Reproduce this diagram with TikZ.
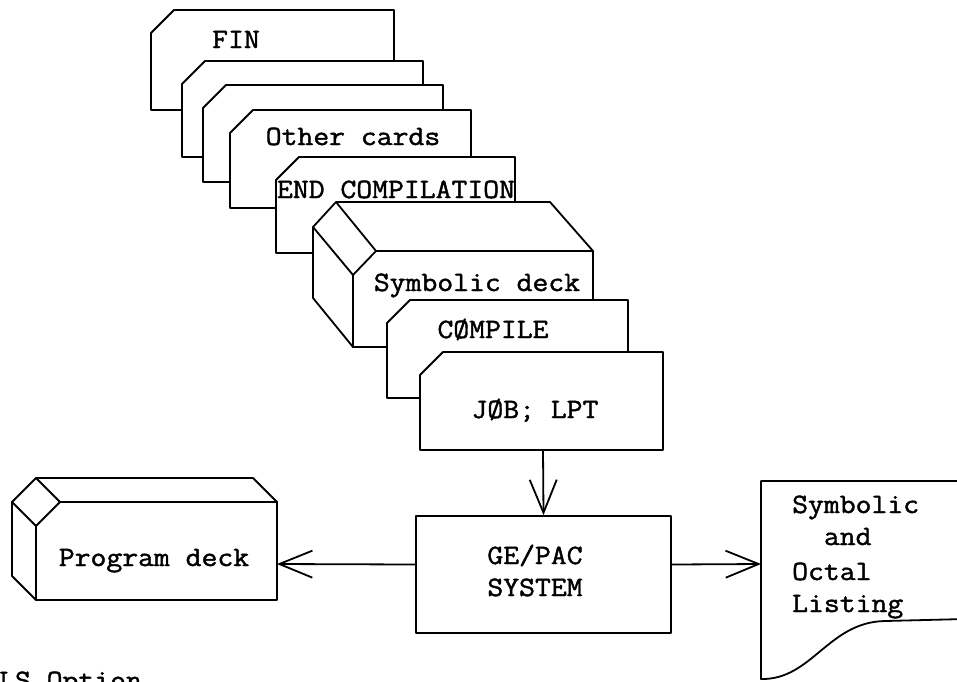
\documentclass[tikz,border=0pt]{standalone}
\usepackage{fontspec}
\newfontfamily\tw[FakeStretch=1.1,FakeBold=1.5]{Latin Modern Mono}
\usetikzlibrary{arrows.meta}

% a punched card with its top left corner cut off: left, top, right, bottom
\newcommand\punchcard[4]{%
  \draw[card] (#1+23,#2) -- (#3,#2) -- (#3,#4) -- (#1,#4) -- (#1,#2+23) -- cycle;}

\begin{document}
\begin{tikzpicture}[x=1pt,y=-1pt,
  ink/.style={line width=1.8pt,line join=round,line cap=round},
  card/.style={ink,fill=white},
  lbl/.style={font=\tw\fontsize{28}{33}\selectfont,inner sep=0pt,anchor=base},
  flow/.style={ink,-{Straight Barb[length=33pt,width=27pt,line width=1.8pt]}},
  sysbox/.style={ink,draw,fill=white,minimum width=255pt,minimum height=117pt,inner sep=0pt}]
\useasboundingbox (0,0) rectangle (957,681);
\clip (0,0) rectangle (957,681);

% ---- card stack, from the back to the front ----
\punchcard{151}{10}{394}{110}
\punchcard{182}{61}{423}{157}
\punchcard{203}{85}{443}{182}
\punchcard{230}{110}{471}{208}
\punchcard{276}{157}{515}{253}

% symbolic deck drawn as a box
\draw[card] (336,202) -- (550,202) -- (593,251) -- (593,347) -- (353,347)
  -- (313,298) -- (313,227) -- cycle;
\draw[ink] (313,227) -- (353,275) -- (376,251) -- (336,202);
\draw[ink] (376,251) -- (593,251);
\draw[ink] (353,275) -- (353,347);

\punchcard{387}{300}{628}{398}
\punchcard{420}{352}{663}{450}

\node[lbl] (fin) at (236,48) {FIN};
\node[lbl] (other) at (353,145) {Other cards};
\node[lbl] (endc) at (396,198) {END COMPILATION};
\node[lbl] (symdeck) at (477,291) {Symbolic deck};
\node[lbl] (compile) at (493,338) {CØMPILE};
\node[lbl] (job) at (535,418) {JØB; LPT};
\coordinate (jobfoot) at (543,450);

% ---- processing system ----
\node[sysbox] (ge) at (543.5,574.5) {};
\node[lbl] (getxt) at (535,564) {GE/PAC};
\node[lbl] (getxt2) at (535,596) {SYSTEM};

% ---- program deck ----
\draw[card] (36,478) -- (253,478) -- (277,502) -- (277,600) -- (36,600)
  -- (12,576) -- (12,502) -- cycle;
\draw[ink] (12,502) -- (36,526) -- (60,502) -- (36,478);
\draw[ink] (60,502) -- (277,502);
\draw[ink] (36,526) -- (36,600);
\node[lbl] (prog) at (154,566) {Program deck};
\coordinate (progin) at (277,564);

% ---- printed listing ----
\draw[card] (965,481) -- (761,481) -- (761,679)
  .. controls (812,680) and (828,622) .. (885,621) -- (965,619);
\node[lbl,anchor=base west] (l1) at (792,513) {Symbolic};
\node[lbl,anchor=base west] (l2) at (792,545) {\hphantom{Sy}and};
\node[lbl,anchor=base west] (l3) at (792,580) {Octal};
\node[lbl,anchor=base west] (l4) at (792,612) {Listing};
\coordinate (lstin) at (761,564);

% ---- connectors ----
\draw[flow] (jobfoot) -- (ge.north);
\draw[flow] ([yshift=10pt]ge.west) -- (progin);
\draw[flow] ([yshift=10pt]ge.east) -- (lstin);

\node[lbl,anchor=base west] (opt) at (-1,689) {LS Option};
\end{tikzpicture}
\end{document}
